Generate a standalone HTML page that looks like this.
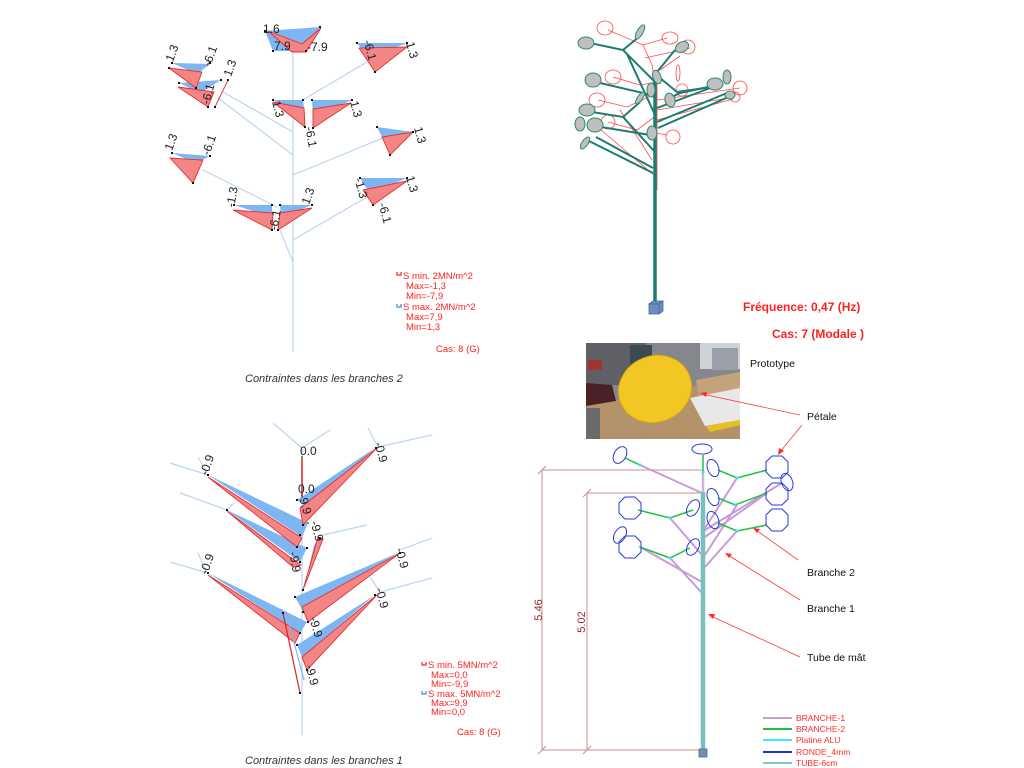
<!DOCTYPE html>
<html><head><meta charset="utf-8"><style>
html,body{margin:0;padding:0;background:#fff;}
svg{display:block;}
text{font-family:"Liberation Sans",sans-serif;}
.l{font-size:12px;fill:#222;text-anchor:middle;dominant-baseline:central;}
.rt{font-size:9.5px;fill:#ff2020;}
.bk{font-size:10.5px;fill:#111;}
.lg{font-size:8.5px;fill:#ff2a2a;}
</style></head><body>
<svg width="1024" height="768" viewBox="0 0 1024 768" xmlns="http://www.w3.org/2000/svg">
<rect width="1024" height="768" fill="#fff"/>

<!-- ============ TOP-LEFT: Contraintes branches 2 ============ -->
<g stroke="#bcd4f0" stroke-width="1.2" fill="none">
<line x1="293" y1="52" x2="293" y2="352"/>
<line x1="223" y1="92" x2="293" y2="132"/>
<line x1="218" y1="98" x2="293" y2="155"/>
<line x1="296" y1="104" x2="367" y2="62"/>
<line x1="293" y1="175" x2="383" y2="138"/>
<line x1="203" y1="170" x2="277" y2="207"/>
<line x1="293" y1="240" x2="367" y2="197"/>
<line x1="280" y1="230" x2="293" y2="262"/>
</g>
<g fill="#7db6f2">
<polygon points="265,31 273,51 306,51 320,27"/>
<polygon points="357,43 368,58 407,43"/>
<polygon points="172,63 197,74 210,64"/>
<polygon points="179,83 200,93 221,80"/>
<polygon points="273,100 303,100 305,117"/>
<polygon points="312,100 352,100 313,117"/>
<polygon points="377,127 383,139 413,132"/>
<polygon points="172,153 196,163 210,156"/>
<polygon points="234,205 272,205 272,217"/>
<polygon points="280,205 312,205 281,218"/>
<polygon points="360,178 370,194 407,178"/>
</g>
<g fill="#f38585" stroke="#e23030" stroke-width="0.9">
<polygon points="268,31 292,52 306,52 321,28 302,44"/>
<polygon points="359,48 375,72 407,47"/>
<polygon points="169,68 196,88 202,72"/>
<polygon points="178,87 208,107 214,92"/>
<polygon points="273,102 305,127 304,108"/>
<polygon points="313,128 351,103 313,109"/>
<polygon points="382,137 390,155 413,132"/>
<polygon points="170,158 193,183 203,160"/>
<polygon points="233,210 272,230 273,213"/>
<polygon points="278,230 312,208 280,213"/>
<polygon points="363,190 373,205 407,181"/>
<line x1="228" y1="80" x2="215" y2="107"/>
</g>
<g fill="#111">
<rect x="264" y="30" width="2" height="2"/><rect x="319" y="26" width="2" height="2"/><rect x="272" y="50" width="2" height="2"/><rect x="305" y="50" width="2" height="2"/>
<rect x="356" y="42" width="2" height="2"/><rect x="406" y="42" width="2" height="2"/><rect x="374" y="71" width="2" height="2"/>
<rect x="171" y="62" width="2" height="2"/><rect x="209" y="62" width="2" height="2"/><rect x="168" y="67" width="2" height="2"/><rect x="195" y="87" width="2" height="2"/>
<rect x="178" y="82" width="2" height="2"/><rect x="220" y="79" width="2" height="2"/><rect x="207" y="106" width="2" height="2"/><rect x="227" y="79" width="2" height="2"/><rect x="214" y="106" width="2" height="2"/>
<rect x="272" y="99" width="2" height="2"/><rect x="302" y="99" width="2" height="2"/><rect x="304" y="126" width="2" height="2"/>
<rect x="311" y="99" width="2" height="2"/><rect x="351" y="99" width="2" height="2"/><rect x="312" y="127" width="2" height="2"/>
<rect x="376" y="126" width="2" height="2"/><rect x="412" y="131" width="2" height="2"/><rect x="389" y="154" width="2" height="2"/>
<rect x="171" y="152" width="2" height="2"/><rect x="209" y="155" width="2" height="2"/><rect x="192" y="182" width="2" height="2"/>
<rect x="233" y="204" width="2" height="2"/><rect x="271" y="204" width="2" height="2"/><rect x="271" y="229" width="2" height="2"/>
<rect x="279" y="204" width="2" height="2"/><rect x="311" y="204" width="2" height="2"/><rect x="277" y="229" width="2" height="2"/>
<rect x="359" y="177" width="2" height="2"/><rect x="406" y="177" width="2" height="2"/><rect x="372" y="204" width="2" height="2"/>
</g>
<text x="263" y="33" style="font-size:12px;fill:#222">1.6</text>
<text x="274" y="50" style="font-size:12px;fill:#222">7.9</text>
<text x="307" y="51" style="font-size:12px;fill:#222">-7.9</text>
<text class="l" transform="translate(172 53) rotate(-70)">1.3</text>
<text class="l" transform="translate(210 56) rotate(-70)">-6.1</text>
<text class="l" transform="translate(230 68) rotate(-70)">1.3</text>
<text class="l" transform="translate(208 94) rotate(-75)">-6.1</text>
<text class="l" transform="translate(370 50) rotate(75)">-6.1</text>
<text class="l" transform="translate(412 50) rotate(75)">1.3</text>
<text class="l" transform="translate(278 109) rotate(75)">1.3</text>
<text class="l" transform="translate(311 137) rotate(80)">-6.1</text>
<text class="l" transform="translate(356 109) rotate(75)">1.3</text>
<text class="l" transform="translate(420 135) rotate(75)">1.3</text>
<text class="l" transform="translate(171 142) rotate(-70)">1.3</text>
<text class="l" transform="translate(209 145) rotate(-70)">-6.1</text>
<text class="l" transform="translate(232 197) rotate(-80)">-1.3</text>
<text class="l" transform="translate(275 220) rotate(-80)">-6.1</text>
<text class="l" transform="translate(308 196) rotate(-70)">1.3</text>
<text class="l" transform="translate(361 188) rotate(75)">-1.3</text>
<text class="l" transform="translate(412 184) rotate(75)">1.3</text>
<text class="l" transform="translate(385 213) rotate(75)">-6.1</text>

<!-- legend 2 -->
<path d="M397,272 v3 h4 v-3" stroke="#ff2020" fill="none" stroke-width="1.2"/>
<text class="rt" x="403" y="279">S min. 2MN/m^2</text>
<text class="rt" x="406" y="289">Max=-1,3</text>
<text class="rt" x="406" y="299">Min=-7,9</text>
<path d="M397,304 v3 h4 v-3" stroke="#3a8ae0" fill="none" stroke-width="1.2"/>
<text class="rt" x="403" y="310">S max. 2MN/m^2</text>
<text class="rt" x="406" y="320">Max=7,9</text>
<text class="rt" x="406" y="330">Min=1,3</text>
<text class="rt" x="436" y="352">Cas: 8 (G)</text>
<text x="245" y="382" style="font-size:11px;font-style:italic;fill:#333">Contraintes dans les branches 2</text>

<!-- ============ BOTTOM-LEFT: Contraintes branches 1 ============ -->
<g stroke="#bcd4f0" stroke-width="1.2" fill="none">
<line x1="302" y1="448" x2="302" y2="735"/>
<line x1="273" y1="423" x2="302" y2="448"/>
<line x1="302" y1="448" x2="330" y2="430"/>
<line x1="368" y1="428" x2="378" y2="447"/>
<line x1="378" y1="447" x2="432" y2="435"/>
<line x1="170" y1="463" x2="208" y2="475"/>
<line x1="198" y1="457" x2="207" y2="473"/>
<line x1="180" y1="493" x2="227" y2="510"/>
<line x1="227" y1="510" x2="234" y2="503"/>
<line x1="323" y1="535" x2="367" y2="525"/>
<line x1="170" y1="562" x2="208" y2="573"/>
<line x1="198" y1="553" x2="207" y2="573"/>
<line x1="400" y1="550" x2="432" y2="538"/>
<line x1="370" y1="577" x2="380" y2="592"/>
<line x1="380" y1="592" x2="432" y2="578"/>
<line x1="237" y1="597" x2="283" y2="610"/>
</g>
<line x1="302" y1="457" x2="302" y2="498" stroke="#e02020" stroke-width="1.5"/>
<g fill="#7db6f2">
<polygon points="297,500 375,448 307,507"/>
<polygon points="208,475 308,523 302,537"/>
<polygon points="227,510 307,548 300,562"/>
<polygon points="314,545 320,540 305,585"/>
<polygon points="295,597 398,553 303,611"/>
<polygon points="208,573 307,622 300,633"/>
<polygon points="297,645 375,595 302,657"/>
</g>
<g fill="#f38585" stroke="#e23030" stroke-width="0.9">
<polygon points="300,508 377,448 303,525"/>
<polygon points="208,477 302,538 297,547"/>
<polygon points="227,511 301,565 293,567"/>
<polygon points="318,537 323,539 303,590"/>
<polygon points="302,607 400,553 308,622"/>
<polygon points="208,575 300,633 295,643"/>
<polygon points="302,657 377,595 307,670"/>
</g>
<line x1="283" y1="613" x2="300" y2="693" stroke="#e02020" stroke-width="1.2"/>
<line x1="286" y1="612" x2="304" y2="680" stroke="#7db6f2" stroke-width="1.2"/>
<g fill="#111">
<rect x="207" y="474" width="2" height="2"/><rect x="226" y="509" width="2" height="2"/><rect x="296" y="499" width="2" height="2"/>
<rect x="375" y="447" width="2" height="2"/><rect x="299" y="534" width="2" height="2"/><rect x="296" y="546" width="2" height="2"/>
<rect x="306" y="547" width="2" height="2"/><rect x="302" y="524" width="2" height="2"/><rect x="299" y="561" width="2" height="2"/>
<rect x="319" y="537" width="2" height="2"/><rect x="302" y="589" width="2" height="2"/><rect x="294" y="596" width="2" height="2"/>
<rect x="302" y="611" width="2" height="2"/><rect x="399" y="552" width="2" height="2"/><rect x="307" y="621" width="2" height="2"/>
<rect x="207" y="572" width="2" height="2"/><rect x="282" y="612" width="2" height="2"/><rect x="299" y="632" width="2" height="2"/>
<rect x="296" y="644" width="2" height="2"/><rect x="374" y="594" width="2" height="2"/><rect x="306" y="669" width="2" height="2"/>
<rect x="299" y="692" width="2" height="2"/>
</g>
<rect x="301" y="456" width="2" height="2" fill="#2c2"/>
<rect x="307" y="522" width="2" height="2" fill="#2c2"/>
<text x="300" y="455" style="font-size:12px;fill:#222">0.0</text>
<text x="298" y="493" style="font-size:12px;fill:#222">0.0</text>
<text class="l" transform="translate(381 452) rotate(75)">-0.9</text>
<text class="l" transform="translate(207 465) rotate(-70)">-0.9</text>
<text class="l" transform="translate(305 504) rotate(75)">-9.9</text>
<text class="l" transform="translate(317 531) rotate(75)">-9.9</text>
<text class="l" transform="translate(295 562) rotate(80)">-9.9</text>
<text class="l" transform="translate(402 558) rotate(75)">-0.9</text>
<text class="l" transform="translate(207 564) rotate(-70)">-0.9</text>
<text class="l" transform="translate(316 627) rotate(75)">-9.9</text>
<text class="l" transform="translate(382 598) rotate(75)">-0.9</text>
<text class="l" transform="translate(312 675) rotate(75)">-9.9</text>

<!-- legend 1 -->
<path d="M422,662 v3 h4 v-3" stroke="#ff2020" fill="none" stroke-width="1.2"/>
<text class="rt" x="428" y="668">S min. 5MN/m^2</text>
<text class="rt" x="431" y="678">Max=0,0</text>
<text class="rt" x="431" y="687">Min=-9,9</text>
<path d="M422,691 v3 h4 v-3" stroke="#3a8ae0" fill="none" stroke-width="1.2"/>
<text class="rt" x="428" y="697">S max. 5MN/m^2</text>
<text class="rt" x="431" y="706">Max=9,9</text>
<text class="rt" x="431" y="715">Min=0,0</text>
<text class="rt" x="457" y="735">Cas: 8 (G)</text>
<text x="245" y="764" style="font-size:11px;font-style:italic;fill:#333">Contraintes dans les branches 1</text>

<!-- ============ TOP-RIGHT: 3D modal tree ============ -->
<g stroke="#ff4a4a" stroke-width="0.8" fill="none">
<polyline points="608,30 643,45 667,38"/>
<polyline points="643,45 652,65 657,95"/>
<polyline points="613,77 640,85 657,82"/>
<polyline points="598,100 627,107 657,93"/>
<polyline points="608,122 637,130 657,115"/>
<line x1="650" y1="132" x2="667" y2="135"/>
<line x1="657" y1="80" x2="657" y2="190"/>
<line x1="657" y1="100" x2="740" y2="88"/>
<line x1="657" y1="110" x2="735" y2="97"/>
<line x1="657" y1="120" x2="733" y2="99"/>
<line x1="600" y1="129" x2="655" y2="176"/>
<line x1="620" y1="110" x2="652" y2="160"/>
<line x1="645" y1="58" x2="690" y2="48"/>
<line x1="660" y1="70" x2="680" y2="56"/>
<ellipse cx="605" cy="28" rx="8" ry="7"/>
<ellipse cx="670" cy="38" rx="8" ry="6"/>
<ellipse cx="688" cy="47" rx="7" ry="7"/>
<ellipse cx="613" cy="77" rx="8" ry="7"/>
<ellipse cx="597" cy="100" rx="8" ry="7"/>
<ellipse cx="608" cy="122" rx="7" ry="7"/>
<ellipse cx="673" cy="137" rx="7" ry="7"/>
<ellipse cx="678" cy="73" rx="2" ry="8"/>
<ellipse cx="740" cy="88" rx="7" ry="7"/>
<ellipse cx="682" cy="90" rx="6" ry="6"/>
<ellipse cx="735" cy="97" rx="5" ry="5"/>
</g>
<g stroke="#1d7b6f" stroke-width="2" fill="none">
<line x1="655" y1="78" x2="655" y2="304" stroke-width="3.5"/>
<polyline points="590,43 623,50 655,82"/>
<line x1="623" y1="50" x2="640" y2="36"/>
<line x1="627" y1="54" x2="655" y2="115"/>
<line x1="675" y1="50" x2="657" y2="72"/>
<polyline points="600,83 643,93 655,97"/>
<polyline points="592,112 623,117 640,102"/>
<line x1="623" y1="117" x2="655" y2="152"/>
<line x1="601" y1="127" x2="650" y2="135"/>
<line x1="587" y1="140" x2="653" y2="173"/>
<line x1="596" y1="137" x2="653" y2="168"/>
<line x1="657" y1="108" x2="713" y2="87"/>
<line x1="657" y1="122" x2="727" y2="93"/>
<line x1="658" y1="128" x2="733" y2="95"/>
<polyline points="670,98 680,93 713,86"/>
<polyline points="660,78 677,92 712,87"/>
</g>
<g fill="#bfbfbf" stroke="#2a8a70" stroke-width="1">
<ellipse cx="586" cy="43" rx="8" ry="6"/>
<ellipse cx="593" cy="80" rx="8" ry="7"/>
<ellipse cx="587" cy="110" rx="8" ry="6"/>
<ellipse cx="595" cy="125" rx="8" ry="7"/>
<ellipse cx="580" cy="124" rx="5" ry="7"/>
<ellipse cx="585" cy="143" rx="3" ry="7" transform="rotate(35 585 143)"/>
<ellipse cx="640" cy="32" rx="3" ry="8" transform="rotate(30 640 32)"/>
<ellipse cx="682" cy="47" rx="7" ry="5" transform="rotate(-30 682 47)"/>
<ellipse cx="657" cy="77" rx="4" ry="7" transform="rotate(-20 657 77)"/>
<ellipse cx="651" cy="90" rx="4" ry="7"/>
<ellipse cx="640" cy="98" rx="2.5" ry="7" transform="rotate(35 640 98)"/>
<ellipse cx="670" cy="100" rx="5" ry="7" transform="rotate(-15 670 100)"/>
<ellipse cx="652" cy="133" rx="5" ry="7"/>
<ellipse cx="715" cy="84" rx="8" ry="6"/>
<ellipse cx="727" cy="77" rx="4" ry="7"/>
<ellipse cx="730" cy="95" rx="5" ry="4"/>
</g>
<g stroke="#4a6a9a" stroke-width="0.8" fill="#6b8cc0">
<polygon points="649,304 653,301 663,301 659,304"/>
<rect x="649" y="304" width="10" height="10"/>
<polygon points="659,304 663,301 663,311 659,314"/>
</g>
<text x="743" y="311" style="font-size:12px;font-weight:bold;fill:#ff2020">Fréquence: 0,47 (Hz)</text>
<text x="772" y="338" style="font-size:12px;font-weight:bold;fill:#ff2020">Cas: 7 (Modale )</text>

<!-- ============ PHOTO ============ -->
<g>
<rect x="586" y="343" width="154" height="96" fill="#85878c"/>
<rect x="586" y="343" width="60" height="42" fill="#5e6066"/>
<rect x="588" y="360" width="14" height="10" fill="#a03535"/>
<rect x="630" y="345" width="22" height="30" fill="#3c4a55"/>
<rect x="700" y="343" width="40" height="26" fill="#d0d3d6"/>
<rect x="712" y="348" width="26" height="22" fill="#9aa0a8"/>
<polygon points="586,405 740,378 740,439 598,439" fill="#b5936a"/>
<rect x="586" y="408" width="14" height="31" fill="#6a6a6a"/>
<polygon points="696,380 740,372 740,396 700,402" fill="#c4a27a"/>
<polygon points="690,398 740,388 740,420 705,426" fill="#e8e8e8"/>
<polygon points="706,426 740,420 740,425 710,432" fill="#e6c020"/>
<polygon points="586,383 612,385 616,401 586,406" fill="#4a2226"/>
<ellipse cx="655" cy="389" rx="37" ry="33" transform="rotate(-22 655 389)" fill="#f2c623" stroke="#d9aa10" stroke-width="1"/>
</g>
<text class="bk" x="750" y="367">Prototype</text>

<!-- ============ BOTTOM-RIGHT: structure ============ -->
<g stroke="#c89090" stroke-width="1" fill="none">
<line x1="542" y1="470" x2="703" y2="470"/>
<line x1="542" y1="470" x2="542" y2="750"/>
<line x1="587" y1="493" x2="703" y2="493"/>
<line x1="587" y1="493" x2="587" y2="750"/>
<line x1="542" y1="750" x2="703" y2="750"/>
<line x1="538" y1="474" x2="546" y2="466"/>
<line x1="583" y1="497" x2="591" y2="489"/>
<line x1="538" y1="754" x2="546" y2="746"/>
<line x1="583" y1="754" x2="591" y2="746"/>
</g>
<text transform="translate(542 610) rotate(-90)" style="font-size:11px;fill:#9a2a2a;text-anchor:middle">5.46</text>
<text transform="translate(585 622) rotate(-90)" style="font-size:11px;fill:#9a2a2a;text-anchor:middle">5.02</text>

<g stroke="#c99ad8" stroke-width="2" fill="none">
<line x1="640" y1="465" x2="702" y2="493"/>
<line x1="737" y1="478" x2="705" y2="528"/>
<line x1="782" y1="483" x2="705" y2="530"/>
<line x1="767" y1="493" x2="705" y2="537"/>
<line x1="737" y1="505" x2="705" y2="555"/>
<line x1="737" y1="531" x2="705" y2="567"/>
<line x1="670" y1="518" x2="702" y2="555"/>
<line x1="640" y1="547" x2="702" y2="582"/>
<line x1="670" y1="558" x2="702" y2="593"/>
</g>
<line x1="703" y1="472" x2="703" y2="493" stroke="#d4b0e0" stroke-width="2.5"/>
<line x1="703" y1="492" x2="703" y2="751" stroke="#78c0c0" stroke-width="4.5"/>
<g stroke="#20c040" stroke-width="1.5" fill="none">
<line x1="703" y1="455" x2="703" y2="472"/>
<polyline points="625,458 640,465"/>
<polyline points="718,470 737,478 767,470"/>
<polyline points="718,498 735,505 767,493"/>
<polyline points="718,523 737,531 767,525"/>
<polyline points="638,510 670,518 693,510"/>
<polyline points="640,547 670,558 690,548"/>
</g>
<g fill="#40e0f0">
<circle cx="737" cy="478" r="1.5"/><circle cx="735" cy="505" r="1.5"/><circle cx="737" cy="531" r="1.5"/>
<circle cx="670" cy="518" r="1.5"/><circle cx="670" cy="558" r="1.5"/><circle cx="640" cy="465" r="1.5"/>
<circle cx="703" cy="472" r="1.5"/><circle cx="640" cy="547" r="1.2"/>
</g>
<g stroke="#2a3ad8" stroke-width="1" fill="none">
<ellipse cx="620" cy="455" rx="6" ry="9" transform="rotate(30 620 455)"/>
<ellipse cx="702" cy="449" rx="10" ry="5"/>
<ellipse cx="713" cy="468" rx="5.5" ry="9" transform="rotate(-20 713 468)"/>
<polygon points="772,456 782,456 788,462 788,472 782,478 772,478 766,472 766,462"/>
<ellipse cx="787" cy="482" rx="5.5" ry="9" transform="rotate(-20 787 482)"/>
<polygon points="772,483 782,483 788,489 788,499 782,505 772,505 766,499 766,489"/>
<ellipse cx="713" cy="497" rx="5.5" ry="9" transform="rotate(-20 713 497)"/>
<polygon points="625,497 635,497 641,503 641,513 635,519 625,519 619,513 619,503"/>
<ellipse cx="693" cy="508" rx="5.5" ry="9" transform="rotate(30 693 508)"/>
<ellipse cx="713" cy="520" rx="5.5" ry="9" transform="rotate(-20 713 520)"/>
<polygon points="772,509 782,509 788,515 788,525 782,531 772,531 766,525 766,515"/>
<ellipse cx="620" cy="535" rx="5.5" ry="9" transform="rotate(30 620 535)"/>
<polygon points="625,536 635,536 641,542 641,552 635,558 625,558 619,552 619,542"/>
<ellipse cx="693" cy="547" rx="5.5" ry="9" transform="rotate(30 693 547)"/>
</g>
<rect x="699" y="749" width="8" height="8" fill="#6f8fb5" stroke="#4a6a90" stroke-width="0.8"/>

<!-- annotations -->
<g stroke="#ff3a3a" stroke-width="0.8" fill="none">
<line x1="800" y1="415" x2="702" y2="394"/>
<line x1="802" y1="425" x2="780" y2="452"/>
<line x1="798" y1="560" x2="756" y2="530"/>
<line x1="800" y1="600" x2="728" y2="555"/>
<line x1="800" y1="657" x2="711" y2="616"/>
</g>
<g fill="#ff2a2a">
<polygon points="700,393 707,392 706,397"/>
<polygon points="778,455 779,448 784,451"/>
<polygon points="753,528 760,529 757,533"/>
<polygon points="725,553 732,554 729,558"/>
<polygon points="708,614 715,614 713,619"/>
</g>
<text class="bk" x="807" y="420">Pétale</text>
<text class="bk" x="807" y="576">Branche 2</text>
<text class="bk" x="807" y="612">Branche 1</text>
<text class="bk" x="807" y="661">Tube de mât</text>

<!-- legend bottom right -->
<g stroke-width="2">
<line x1="763" y1="718" x2="792" y2="718" stroke="#c8a0d8"/>
<line x1="763" y1="729" x2="792" y2="729" stroke="#22bb44"/>
<line x1="763" y1="740" x2="792" y2="740" stroke="#40e8f0"/>
<line x1="763" y1="752" x2="792" y2="752" stroke="#2030e0"/>
<line x1="763" y1="763" x2="792" y2="763" stroke="#80c8c8"/>
</g>
<text class="lg" x="796" y="721">BRANCHE-1</text>
<text class="lg" x="796" y="732">BRANCHE-2</text>
<text class="lg" x="796" y="743">Platine ALU</text>
<text class="lg" x="796" y="755">RONDE_4mm</text>
<text class="lg" x="796" y="766">TUBE-6cm</text>
</svg>
</body></html>
